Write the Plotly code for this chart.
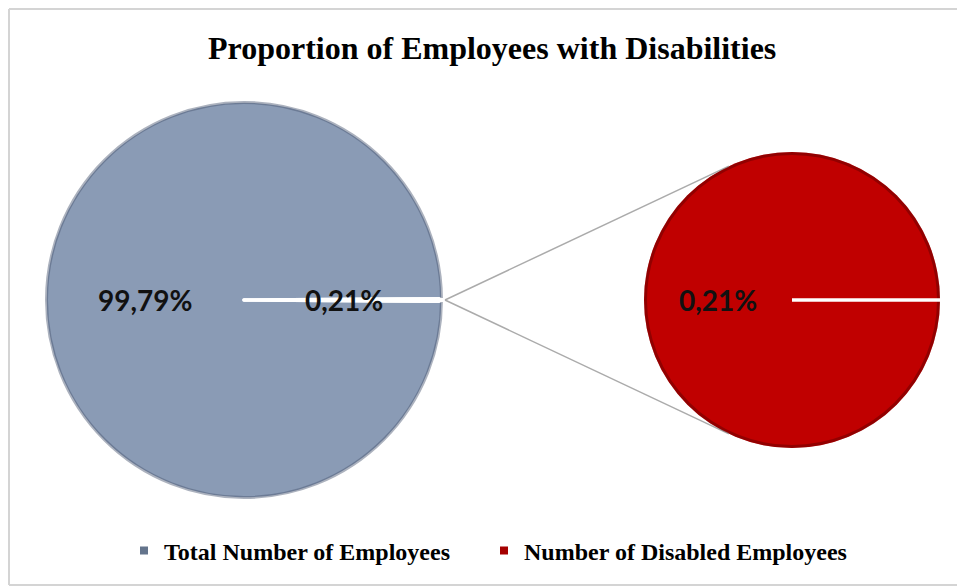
import math
import plotly.graph_objects as go

# ---------------- data ----------------
primary_labels = ["Total Number of Employees", "Number of Disabled Employees"]
primary_values = [99.79, 0.21]
secondary_labels = ["Number of Disabled Employees"]
secondary_values = [0.21]
legend_labels = ["Total Number of Employees", "Number of Disabled Employees"]
title_text = "Proportion of Employees with Disabilities"

# ---------------- style / geometry ----------------
W, H = 965, 588
OFF = 8  # page body margin offset
L_CX, L_CY, L_R = 244, 300, 199
R_CX, R_CY, R_R = 792, 300, 148
GREY = "#8A9BB5"
RED = "#C00000"
LEG_COLORS = ["#64748C", "#A50000"]
LEG_LEFT = [124, 484]
LINE_GREY = "#ABABAB"


def px_to_paper(x, y):
    return (x - OFF) / W, 1 - (y - OFF) / H


def domain(cx, cy, r):
    x0, y0 = px_to_paper(cx - r, cy + r)
    x1, y1 = px_to_paper(cx + r, cy - r)
    return dict(x=[x0, x1], y=[y0, y1])


def fmt(v):
    return f"{v:.2f}".replace(".", ",") + "%"


total = sum(primary_values)
small_frac = primary_values[1] / total
# put the small slice centred at 3 o'clock (90 deg clockwise from 12)
rotation = 90 - 360 * (1 - small_frac / 2) + 360

fig = go.Figure()
fig.add_trace(go.Pie(
    labels=primary_labels, values=primary_values, sort=False, direction="clockwise",
    rotation=rotation, domain=domain(L_CX, L_CY, L_R),
    marker=dict(colors=[GREY, "#FFFFFF"], line=dict(color="#FFFFFF", width=3.5)),
    textinfo="none", hoverinfo="label+percent", showlegend=False,
))
fig.add_trace(go.Pie(
    labels=secondary_labels, values=secondary_values, sort=False,
    domain=domain(R_CX, R_CY, R_R),
    marker=dict(colors=[RED], line=dict(color="#FFFFFF", width=0)),
    textinfo="none", hoverinfo="label", showlegend=False,
))

# legend entries (one legend box each, so they can be spaced like the original)
legend_font = dict(family="Liberation Serif", size=24, color="#000000", weight="bold")
layout_legends = {}
for i, (lab, col) in enumerate(zip(legend_labels, LEG_COLORS)):
    key = "legend" if i == 0 else f"legend{i + 1}"
    fig.add_trace(go.Scatter(x=[None], y=[None], mode="markers", name=lab, legend=key,
                             marker=dict(symbol="square", size=8, color=col)))
    lx, ly = px_to_paper(LEG_LEFT[i], 551)
    layout_legends[key] = dict(x=lx, y=ly, xanchor="left", yanchor="middle",
                               font=legend_font, itemclick=False, bgcolor="rgba(0,0,0,0)")

shapes = []
# chart border (top, left, bottom; right side lies outside the view)
for (xa, ya, xb, yb) in ((9, 9, 1000, 9), (9, 9, 9, 585), (9, 585, 1000, 585)):
    x0, y0 = px_to_paper(xa, ya)
    x1, y1 = px_to_paper(xb, yb)
    shapes.append(dict(type="line", xref="paper", yref="paper", x0=x0, y0=y0, x1=x1, y1=y1,
                       line=dict(color="#D4D4D4", width=2), layer="below"))

# connector lines from primary pie edge to secondary pie tangents
px, py = L_CX + L_R + 2, L_CY
d = math.hypot(R_CX - px, R_CY - py)
ang = math.acos(R_R / d)
for s in (-1, 1):
    tx = R_CX - R_R * math.cos(ang)
    ty = R_CY + s * R_R * math.sin(ang)
    x0, y0 = px_to_paper(px, py)
    x1, y1 = px_to_paper(tx, ty)
    shapes.append(dict(type="line", xref="paper", yref="paper", x0=x0, y0=y0, x1=x1, y1=y1,
                       line=dict(color=LINE_GREY, width=1.5)))

# subtle darker rims (shading)
for cx, cy, r, col in ((L_CX, L_CY, L_R, "rgba(70,85,110,0.45)"), (R_CX, R_CY, R_R, "rgba(90,0,0,0.45)")):
    x0, y0 = px_to_paper(cx - r + 1.5, cy + r - 1.5)
    x1, y1 = px_to_paper(cx + r - 1.5, cy - r + 1.5)
    shapes.append(dict(type="circle", xref="paper", yref="paper", x0=x0, y0=y0, x1=x1, y1=y1,
                       line=dict(color=col, width=3)))

# white slice border in the secondary pie (start edge at 3 o'clock)
x0, y0 = px_to_paper(R_CX, R_CY)
x1, y1 = px_to_paper(R_CX + R_R, R_CY)
shapes.append(dict(type="line", xref="paper", yref="paper", x0=x0, y0=y0, x1=x1, y1=y1,
                   line=dict(color="#FFFFFF", width=3.5)))
# re-draw primary small slice tip over the rim
x0, y0 = px_to_paper(L_CX + L_R - 6, L_CY)
x1, y1 = px_to_paper(L_CX + L_R, L_CY)
shapes.append(dict(type="line", xref="paper", yref="paper", x0=x0, y0=y0, x1=x1, y1=y1,
                   line=dict(color="#FFFFFF", width=4)))

# data labels
label_font = dict(family="Lato", size=28, color="#111111")
annotations = []
for (cx, cy, r, side, v) in ((L_CX, L_CY, L_R, -1, primary_values[0] / total * 100),
                             (L_CX, L_CY, L_R, 1, primary_values[1] / total * 100),
                             (R_CX, R_CY, R_R, -1, primary_values[1] / total * 100)):
    ax, ay = px_to_paper(cx + side * 0.5 * r, cy)
    annotations.append(dict(x=ax, y=ay, xref="paper", yref="paper", text=f"<b>{fmt(v)}</b>",
                            showarrow=False, font=label_font, xanchor="center", yanchor="middle"))

tx, ty = px_to_paper(492, 48)
annotations.append(dict(x=tx, y=ty, xref="paper", yref="paper", text=f"<b>{title_text}</b>",
                        showarrow=False, xanchor="center", yanchor="middle",
                        font=dict(family="Liberation Serif", size=32, color="#000000")))

fig.update_layout(
    width=W, height=H, margin=dict(l=0, r=0, t=0, b=0),
    paper_bgcolor="white", plot_bgcolor="white",
    shapes=shapes, annotations=annotations,
    xaxis=dict(visible=False), yaxis=dict(visible=False),
    **layout_legends,
)
fig.write_html(
    "out.html",
    config={"displayModeBar": False},
    post_script="document.body.style.overflow='hidden';document.documentElement.style.overflow='hidden';",
)
